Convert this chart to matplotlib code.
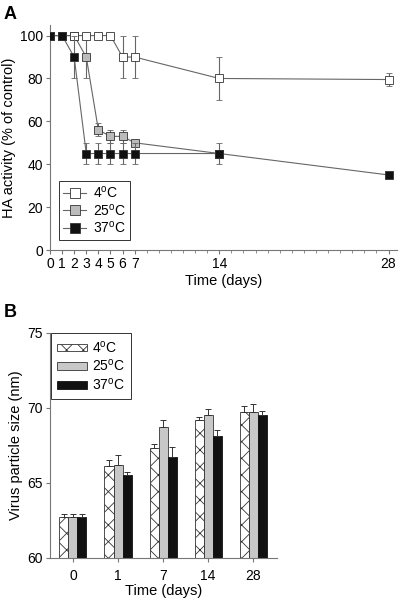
import numpy as np
import matplotlib
matplotlib.use("Agg")
import matplotlib.pyplot as plt
from matplotlib.ticker import FixedLocator
from matplotlib.lines import Line2D

plt.rcParams['font.family'] = ['Liberation Sans', 'DejaVu Sans']
plt.rcParams['hatch.linewidth'] = 0.6

# panel A: HA activity
days_a = [0, 1, 2, 3, 4, 5, 6, 7, 14, 28]
ha_4 = [100, 100, 100, 100, 100, 100, 90, 90, 80, 79.5]
ha_4_err = [0, 0, 0, 0, 0, 0, 10, 10, 10, 3]
days_25 = [0, 1, 2, 3, 4, 5, 6, 7, 14]
ha_25 = [100, 100, 100, 90, 56, 53, 53, 50, 45]
ha_25_err = [0, 0, 0, 10, 3, 3, 3, 1.5, 0]
ha_37 = [100, 100, 90, 45, 45, 45, 45, 45, 45, 35]
ha_37_err = [0, 0, 10, 5, 5, 5, 5, 5, 5, 0]

# panel B: particle size
days_b = ['0', '1', '7', '14', '28']
size_4 = [62.7, 66.1, 67.3, 69.2, 69.7]
size_4_err = [0.25, 0.4, 0.3, 0.2, 0.4]
size_25 = [62.7, 66.2, 68.7, 69.5, 69.7]
size_25_err = [0.25, 0.65, 0.5, 0.45, 0.55]
size_37 = [62.7, 65.5, 66.7, 68.1, 69.5]
size_37_err = [0.25, 0.2, 0.7, 0.4, 0.3]

labels = ['4$^\\mathregular{o}$C', '25$^\\mathregular{o}$C', '37$^\\mathregular{o}$C']
spine_col = '#777777'
line_col = '#666666'
tick_fs = 10
lab_fs = 10.5
leg_fs = 10

fig = plt.figure(figsize=(4, 6.02), dpi=100)

# ---- A ----
ax = fig.add_axes([0.125, 0.5847, 0.8675, 0.374])
series = [(days_a, ha_4, ha_4_err, 'white', 3),
          (days_25, ha_25, ha_25_err, '#bbbbbb', 2),
          (days_a, ha_37, ha_37_err, '#111111', 4)]
handles = []
for (d, v, e, fc, z), lab in zip(series, labels):
    ax.errorbar(d, v, yerr=e, color=line_col, lw=0.8, elinewidth=0.8, capsize=2.5,
                capthick=0.8, marker='s', ms=5.5, mfc=fc, mec='#333333', mew=0.6,
                zorder=z)
    handles.append(Line2D([], [], color=line_col, lw=0.8, marker='s', ms=7,
                          mfc=fc, mec='#333333', mew=0.6, label=lab))
ax.set_xlim(0, 28.7)
ax.set_ylim(0, 105)
ax.set_xticks([0, 1, 2, 3, 4, 5, 6, 7, 14, 28])
ax.xaxis.set_minor_locator(FixedLocator(np.arange(0, 29, 1)))
ax.set_yticks([0, 20, 40, 60, 80, 100])
for s in ['top', 'right']:
    ax.spines[s].set_visible(False)
for s in ['left', 'bottom']:
    ax.spines[s].set_color(spine_col)
ax.tick_params(axis='both', which='major', labelsize=tick_fs, length=3, color=spine_col, pad=2)
ax.tick_params(axis='x', which='minor', length=2, color=spine_col)
ax.set_xlabel('Time (days)', fontsize=lab_fs, labelpad=2)
ax.set_ylabel('HA activity (% of control)', fontsize=lab_fs, labelpad=3)
leg = ax.legend(handles=handles, loc='lower left', bbox_to_anchor=(0.025, 0.045),
                borderaxespad=0, fontsize=leg_fs, fancybox=False, edgecolor='#333333',
                framealpha=1, handlelength=1.7, borderpad=0.3, labelspacing=0.1,
                handletextpad=0.5)
leg.get_frame().set_linewidth(0.7)
fig.text(0.01, 0.99, 'A', fontsize=13, fontweight='bold', va='top')

# ---- B ----
bx = fig.add_axes([0.125, 0.0731, 0.5675, 0.3738])
x = np.arange(len(days_b))
w = 0.2
bx.bar(x - w, size_4, w, color='white', edgecolor='#333333', hatch='xx',
       linewidth=0.6, label=labels[0])
bx.bar(x, size_25, w, color='#c8c8c8', edgecolor='#333333',
       linewidth=0.6, label=labels[1])
bx.bar(x + w, size_37, w, color='#111111', edgecolor='#111111',
       linewidth=0.6, label=labels[2])
for off, v, e in [(-w, size_4, size_4_err), (0, size_25, size_25_err), (w, size_37, size_37_err)]:
    bx.errorbar(x + off, v, yerr=[np.zeros(len(e)), e], fmt='none', ecolor='#333333',
                elinewidth=0.7, capsize=2.5, capthick=0.7)
bx.set_xlim(-0.51, 4.53)
bx.set_ylim(60, 75)
bx.set_yticks([60, 65, 70, 75])
bx.set_xticks(x)
bx.set_xticklabels(days_b)
for s in ['top', 'right']:
    bx.spines[s].set_visible(False)
for s in ['left', 'bottom']:
    bx.spines[s].set_color(spine_col)
bx.tick_params(axis='both', labelsize=tick_fs, length=3, color=spine_col, pad=2)
bx.tick_params(axis='x', pad=5)
bx.set_xlabel('Time (days)', fontsize=lab_fs, labelpad=1)
bx.set_ylabel('Virus particle size (nm)', fontsize=lab_fs, labelpad=3)
leg2 = bx.legend(loc='upper left', bbox_to_anchor=(0.005, 1.0), borderaxespad=0,
                 fontsize=leg_fs, fancybox=False, edgecolor='#333333', framealpha=1,
                 handlelength=2.1, handleheight=0.45, borderpad=0.45,
                 labelspacing=0.2, handletextpad=0.4)
leg2.get_frame().set_linewidth(0.7)
fig.text(0.01, 0.495, 'B', fontsize=13, fontweight='bold', va='top')

fig.savefig('out.png', dpi=100)
